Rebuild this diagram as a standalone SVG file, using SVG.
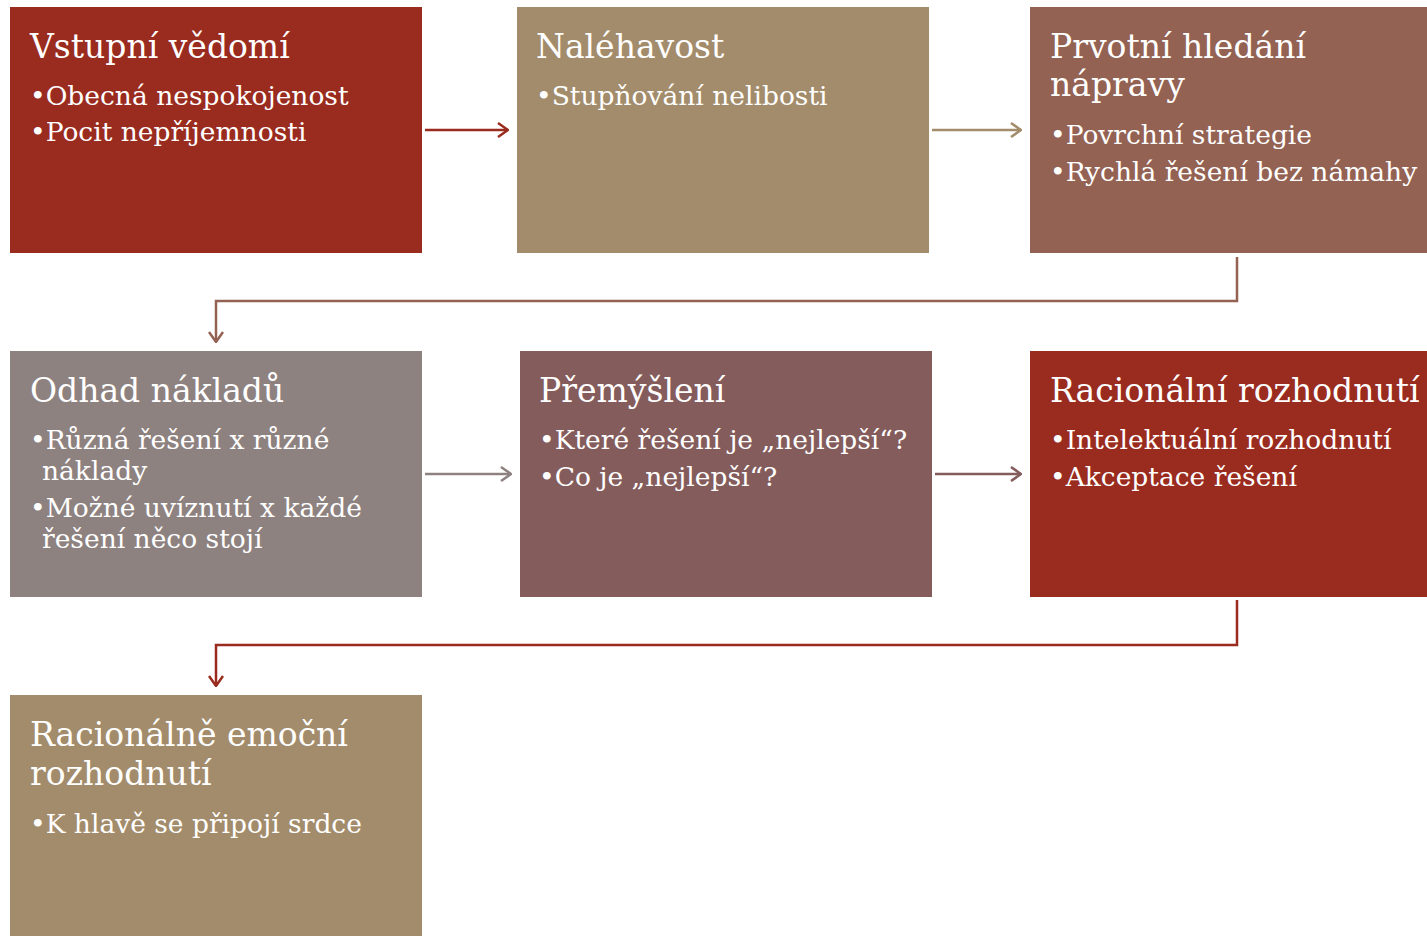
<svg xmlns="http://www.w3.org/2000/svg" width="1427" height="936" viewBox="0 0 1427 936">
<defs>
<style>
.t{font-family:"DejaVu Serif","Liberation Serif",serif;fill:#ffffff;font-size:33px}
.b{font-family:"DejaVu Serif","Liberation Serif",serif;fill:#ffffff;font-size:26.5px}
.c{fill:none;stroke-width:2.5}
</style>
<marker id="mRed" viewBox="0 0 12 16" refX="11" refY="8" markerWidth="12" markerHeight="16" markerUnits="userSpaceOnUse" orient="auto"><path d="M1,1 L11,8 L1,15" fill="none" stroke="#9A2B1F" stroke-width="2.5"/></marker>
<marker id="mTan" viewBox="0 0 12 16" refX="11" refY="8" markerWidth="12" markerHeight="16" markerUnits="userSpaceOnUse" orient="auto"><path d="M1,1 L11,8 L1,15" fill="none" stroke="#A38C6B" stroke-width="2.5"/></marker>
<marker id="mBrown" viewBox="0 0 12 16" refX="11" refY="8" markerWidth="12" markerHeight="16" markerUnits="userSpaceOnUse" orient="auto"><path d="M1,1 L11,8 L1,15" fill="none" stroke="#946253" stroke-width="2.5"/></marker>
<marker id="mGrey" viewBox="0 0 12 16" refX="11" refY="8" markerWidth="12" markerHeight="16" markerUnits="userSpaceOnUse" orient="auto"><path d="M1,1 L11,8 L1,15" fill="none" stroke="#8E8280" stroke-width="2.5"/></marker>
<marker id="mMauve" viewBox="0 0 12 16" refX="11" refY="8" markerWidth="12" markerHeight="16" markerUnits="userSpaceOnUse" orient="auto"><path d="M1,1 L11,8 L1,15" fill="none" stroke="#845C5B" stroke-width="2.5"/></marker>
</defs>
<rect width="1427" height="936" fill="#ffffff"/>
<g id="connectors">
<line class="c" x1="425" y1="130" x2="508" y2="130" stroke="#9A2B1F" marker-end="url(#mRed)"/>
<line class="c" x1="932" y1="130" x2="1021" y2="130" stroke="#A38C6B" marker-end="url(#mTan)"/>
<polyline class="c" points="1237,257 1237,301 216,301 216,342" stroke="#946253" marker-end="url(#mBrown)"/>
<line class="c" x1="425" y1="474" x2="511" y2="474" stroke="#8E8280" marker-end="url(#mGrey)"/>
<line class="c" x1="935" y1="474" x2="1021" y2="474" stroke="#845C5B" marker-end="url(#mMauve)"/>
<polyline class="c" points="1237,600 1237,645 216,645 216,686" stroke="#9A2B1F" marker-end="url(#mRed)"/>
</g>
<g id="n1">
<rect x="10" y="7" width="412" height="246" fill="#9A2B1F"/>
<text class="t" x="30" y="58">Vstupní vědomí</text>
<text class="b" x="30" y="105">•Obecná nespokojenost</text>
<text class="b" x="30" y="141">•Pocit nepříjemnosti</text>
</g>
<g id="n2">
<rect x="517" y="7" width="412" height="246" fill="#A38C6B"/>
<text class="t" x="536" y="58">Naléhavost</text>
<text class="b" x="536" y="105">•Stupňování nelibosti</text>
</g>
<g id="n3">
<rect x="1030" y="7" width="397" height="246" fill="#946253"/>
<text class="t" x="1050" y="58">Prvotní hledání</text>
<text class="t" x="1050" y="96">nápravy</text>
<text class="b" x="1050" y="144">•Povrchní strategie</text>
<text class="b" x="1050" y="181">•Rychlá řešení bez námahy</text>
</g>
<g id="n4">
<rect x="10" y="351" width="412" height="246" fill="#8E8280"/>
<text class="t" x="30" y="402">Odhad nákladů</text>
<text class="b" x="30" y="449">•Různá řešení x různé</text>
<text class="b" x="42" y="480">náklady</text>
<text class="b" x="30" y="517">•Možné uvíznutí x každé</text>
<text class="b" x="42" y="548">řešení něco stojí</text>
</g>
<g id="n5">
<rect x="520" y="351" width="412" height="246" fill="#845C5B"/>
<text class="t" x="539" y="402">Přemýšlení</text>
<text class="b" x="539" y="449">•Které řešení je „nejlepší“?</text>
<text class="b" x="539" y="486">•Co je „nejlepší“?</text>
</g>
<g id="n6">
<rect x="1030" y="351" width="397" height="246" fill="#9A2B1F"/>
<text class="t" x="1050" y="402">Racionální rozhodnutí</text>
<text class="b" x="1050" y="449">•Intelektuální rozhodnutí</text>
<text class="b" x="1050" y="486">•Akceptace řešení</text>
</g>
<g id="n7">
<rect x="10" y="695" width="412" height="241" fill="#A38C6B"/>
<text class="t" x="30" y="746">Racionálně emoční</text>
<text class="t" x="30" y="785">rozhodnutí</text>
<text class="b" x="30" y="833">•K hlavě se připojí srdce</text>
</g>
</svg>
